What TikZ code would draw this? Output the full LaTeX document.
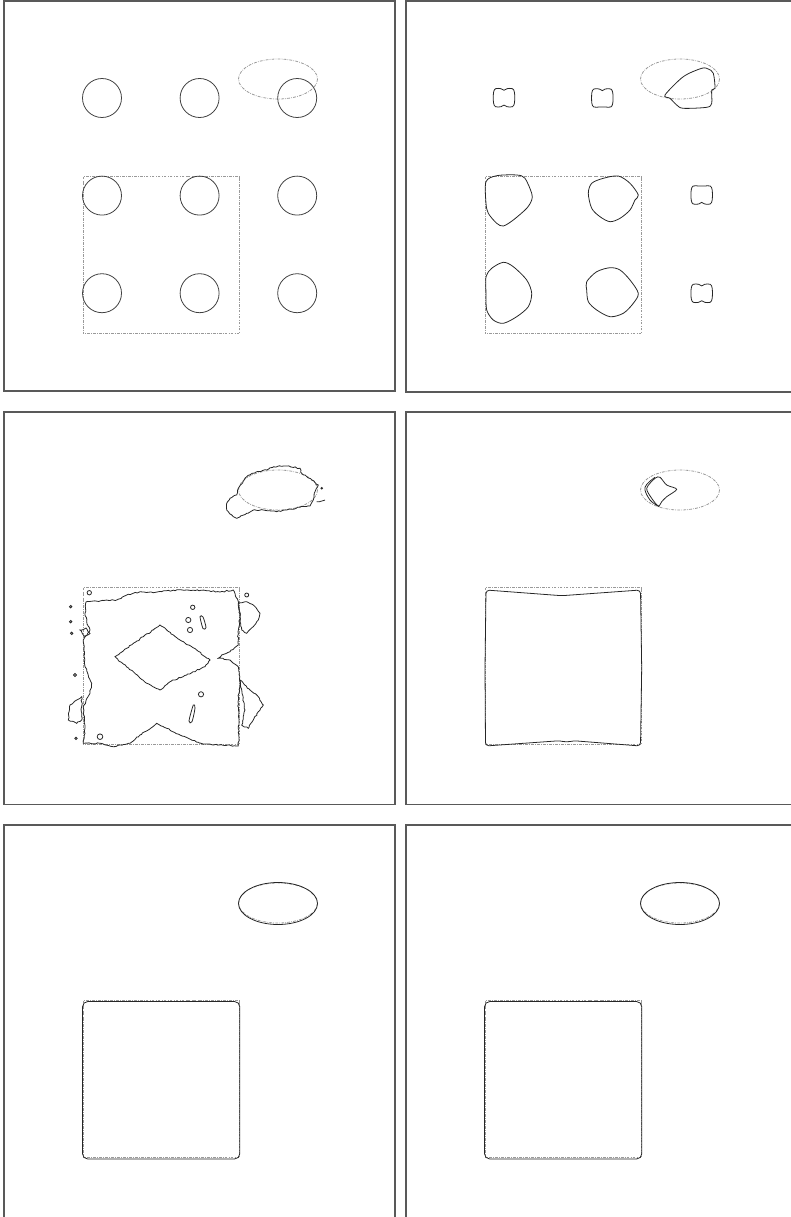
\documentclass[tikz,border=0pt]{standalone}
\usetikzlibrary{decorations.pathmorphing}

\tikzset{
    panel/.style={draw=black!65, line width=0.7pt},
    refshape/.style={draw=black!40, line width=0.45pt, dash pattern=on 1.6pt off 0.7pt on 0.4pt off 0.7pt},
    circ/.style={draw=black!75, line width=0.45pt},
    contour/.style={draw=black!85, line width=0.45pt},
    noisy/.style={contour, decorate, decoration={random steps, segment length=1.2pt, amplitude=0.35pt}},
}

% dashed reference square and ellipse of every panel
\newcommand{\refshapes}{%
    \draw[refshape] (79,175.5) rectangle (235.5,332.5);
    \draw[refshape] (274,78) ellipse [x radius=39.5, y radius=20];
}

% small lump: centre #1,#2, dent at top #3, dent at bottom #4
\newcommand{\lump}[4]{%
    \draw[contour] plot[smooth cycle, tension=0.55] coordinates {
        (#1-10.5,#2-5) (#1-8.5,#2-9) (#1-3,#2-9) (#1,#2-9+#3) (#1+3,#2-9) (#1+8.5,#2-9)
        (#1+10.5,#2-5) (#1+10.5,#2+5) (#1+8.5,#2+9) (#1+3,#2+9) (#1,#2+9-#4) (#1-3,#2+9)
        (#1-8.5,#2+9) (#1-10.5,#2+5)};
}

\begin{document}
\begin{tikzpicture}[x=0.02cm, y=-0.02cm]
    % Parameters
    \def\panelw{391}
    \def\gap{97.6}
    \pgfmathsetseed{7}

    \useasboundingbox (0,0) rectangle (791,1217);
    \clip (0,0) rectangle (791,1217);

    % Draw the panel frames
    \foreach \px/\py/\ph in {4/1/390, 406/1/391, 4/412/392.5, 406/412/392.5, 4/825/396, 406/825/396} {
            \draw[panel] (\px,\py) rectangle ++(\panelw,\ph);
        }

    % Panel 1: the circles
    \begin{scope}[shift={(4,1)}]
        \refshapes
        \foreach \i in {0,1,2} {
                \foreach \j in {0,1,2} {
                        \draw[circ] (98+\i*\gap, 97+\j*\gap) circle [radius=19.5];
                    }
            }
    \end{scope}

    % Panel 2: lumps and blobs
    \begin{scope}[shift={(406,1)}]
        \refshapes
        \lump{98}{96.7}{1.6}{1.6}
        \lump{196.3}{97}{1.6}{0}
        \lump{295.7}{194}{0}{1.6}
        \lump{295.7}{292.3}{1.6}{1.6}
        \draw[contour] plot[smooth cycle, tension=0.5] coordinates {(259,94) (277.3,75.7) (295.7,67.3) (302.3,68) (307.3,72.3) (309,87.3) (305.7,89) (305.7,102.3) (300.7,106.3) (277.3,107.3) (270.7,104) (264,97.3)};
        \draw[contour] plot[smooth cycle, tension=0.5] coordinates {(80,180.7) (90.7,174.7) (110.7,174) (119,177.3) (125.7,192.3) (125.7,199) (120.7,207.3) (107.3,219) (97.3,225) (90.7,222.3) (82.3,212.3) (80,202.3)};
        \draw[contour] plot[smooth cycle, tension=0.5] coordinates {(182.3,192.3) (185.7,182.3) (197.3,177.3) (212.3,175) (224,182.3) (232.3,194) (229,199) (224,209) (214,217.3) (204,220.7) (194,215.7) (185.7,207.3)};
        \draw[contour] plot[smooth cycle, tension=0.5] coordinates {(80,275.7) (85.7,267.3) (97.3,261.3) (107.3,265.7) (120.7,279) (125.7,292.3) (122.3,305.7) (110.7,315.7) (97.3,322.3) (87.3,319) (80.7,309) (80,292.3)};
        \draw[contour] plot[smooth cycle, tension=0.5] coordinates {(180.7,280.7) (190.7,270.7) (204,266.7) (214,269) (224,279) (232.3,292.3) (227.3,302.3) (217.3,312.3) (204,315.7) (190.7,309) (182.3,300.7) (180.7,289)};
    \end{scope}

    % Panel 3: noisy contours
    \begin{scope}[shift={(4,412)}]
        \refshapes
        \draw[noisy] plot coordinates {(222.7,91.3) (226,86.3) (232.7,83) (234.3,76.3) (242.7,64.7) (252.7,59.7) (262.7,58) (269.3,54.7) (282.7,54) (296,56.3) (297.7,61.3) (307.7,68) (314.3,73) (311,79.7) (309.3,88) (306,94) (296,95.3) (282.7,98) (272.7,99.7) (259.3,98) (249.3,98) (242.7,101.3) (232.7,106.3) (229.3,104.7) (222.7,98)} -- cycle;
        \draw[noisy] (312.7,89.7) -- (321,88);
        \draw[contour] (317.7,76.3) circle [radius=0.8];
        % outer band round the square
        \draw[noisy] plot coordinates {(82,190) (96,189) (112.7,188) (122.7,183) (136,179.7) (149.3,180.7) (162.7,178.7) (182.7,178) (202.7,178.7) (216,180) (229.3,178) (234.5,190) (236,205) (234,220) (234.3,233) (226,239.7) (217.7,243) (214.3,246.3) (226,248) (234.3,254.7) (236,271) (234,290) (235,310) (234.3,334) (216,333) (196,331.3) (176,323) (162.7,316.3) (152.7,311.3) (144.3,318) (136,323) (126,331.3) (109.3,334.7) (96,331.3) (79.3,331.3) (81,321.3) (79.3,294.7) (86,281.3) (87.7,271.3) (81,254.7) (79.3,228) (86,218) (82.7,209.7) (81,201.3)} -- cycle;
        % the diamond
        \draw[noisy] plot coordinates {(111,244.7) (122.7,236.3) (139.3,224.7) (149.3,218) (156,213) (162.7,218) (176,228) (192.7,238) (206,248) (201,254.7) (182.7,263) (166,269.7) (156,278) (142.7,271.3) (129.3,259.7) (116,249.7)} -- cycle;
        % islands
        \foreach \ix/\iy/\ir in {188.7/195.3/2.2, 184.3/208/2.6, 186/218/2.6, 197/282.3/2.6, 96/324.7/2.8, 85.3/180.7/2.2, 242.7/183/2, 66.7/194.7/1.2, 66.7/209.7/1.2, 67.7/221.3/1.2, 71/263/1.5, 72/326.3/1.2} {
                \draw[contour] (\ix,\iy) circle [radius=\ir];
            }
        \draw[contour] plot[smooth cycle] coordinates {(196,204.7) (199,205) (202,215.5) (199,216.5)};
        \draw[contour] plot[smooth cycle] coordinates {(189.3,293) (191,296) (188,309.7) (185,309)};
        \draw[noisy] plot coordinates {(76,218) (82,216) (86,221.3) (81,224.5)} -- cycle;
        \draw[noisy] plot coordinates {(77.7,284.7) (66,293) (64.3,308) (72.7,311.3) (77.7,308)} -- cycle;
        \draw[noisy] plot coordinates {(234.3,191.3) (242.7,189.7) (249.3,193) (256,201.3) (254.3,208) (249.3,214.7) (242.7,221.3) (237.7,218)} -- cycle;
        \draw[noisy] plot coordinates {(236,268) (246,278) (254.3,284.7) (259.3,293) (254.3,299.7) (249.3,308) (244.3,316.3) (237.7,313) (241,298)} -- cycle;
    \end{scope}

    % Panel 4: square contour and small blob
    \begin{scope}[shift={(406,412)}]
        \refshapes
        \draw[contour] plot[smooth cycle, tension=0.5] coordinates {(240.7,76.3) (249,66.3) (254,65.3) (260.7,73) (270.7,77.3) (260.7,84.7) (255.7,89.7) (252.3,94) (245.7,86.3)};
        \draw[contour] plot[smooth, tension=0.6] coordinates {(249,65.3) (239,75.3) (244,88) (253.3,94.7)};
        \draw[contour, rounded corners=2] (80,178) -- (155.7,183.7) -- (234.5,178) -- (235.7,256) -- (234.5,334)
            -- (167.3,328.7) -- (160.7,330.3) -- (154,328.7) -- (79.5,334) -- (79,256) -- cycle;
    \end{scope}

    % Panels 5 and 6: final shapes
    \foreach \px/\py in {4/825, 406/825} {
            \begin{scope}[shift={(\px,\py)}]
                \refshapes
                \draw[contour, rounded corners=3] (78.5,176.5) rectangle (235.8,334);
                \draw[contour] (274,78.5) ellipse [x radius=39.5, y radius=21];
            \end{scope}
        }
\end{tikzpicture}
\end{document}
